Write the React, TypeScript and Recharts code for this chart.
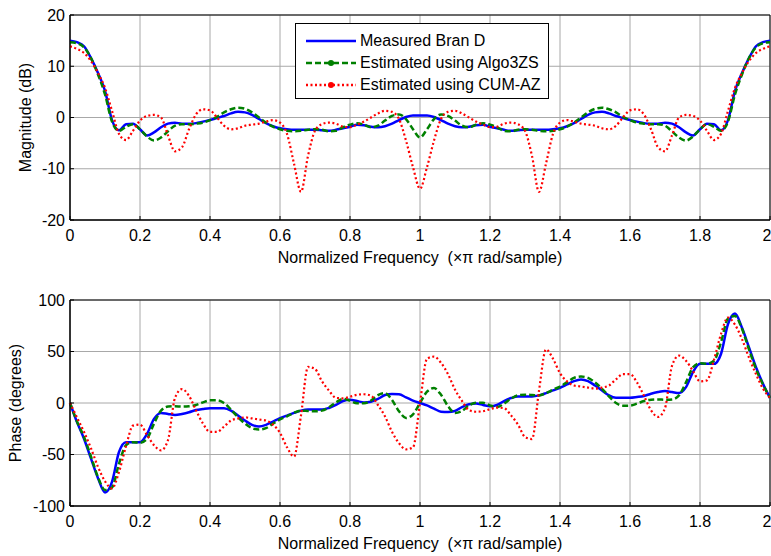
import {
  LineChart,
  Line,
  XAxis,
  YAxis,
  CartesianGrid,
  ReferenceArea,
  Legend,
} from "recharts";

// normalized frequency (x pi rad/sample)
const freq = [
  0, 0.02, 0.04, 0.06, 0.08, 0.1, 0.12, 0.14, 0.16, 0.18,
  0.2, 0.22, 0.24, 0.26, 0.28, 0.3, 0.32, 0.34, 0.36, 0.38,
  0.4, 0.42, 0.44, 0.46, 0.48, 0.5, 0.52, 0.54, 0.56, 0.58,
  0.6, 0.62, 0.64, 0.66, 0.68, 0.7, 0.72, 0.74, 0.76, 0.78,
  0.8, 0.82, 0.84, 0.86, 0.88, 0.9, 0.92, 0.94, 0.96, 0.98,
  1, 1.02, 1.04, 1.06, 1.08, 1.1, 1.12, 1.14, 1.16, 1.18,
  1.2, 1.22, 1.24, 1.26, 1.28, 1.3, 1.32, 1.34, 1.36, 1.38,
  1.4, 1.42, 1.44, 1.46, 1.48, 1.5, 1.52, 1.54, 1.56, 1.58,
  1.6, 1.62, 1.64, 1.66, 1.68, 1.7, 1.72, 1.74, 1.76, 1.78,
  1.8, 1.82, 1.84, 1.86, 1.88, 1.9, 1.92, 1.94, 1.96, 1.98,
  2,
];

// magnitude (dB)
const magMeasured = [
  15.0, 14.7, 13.9, 11.6, 8.7, 5.2, -0.5, -2.5, -1.3, -1.2,
  -2.3, -3.5, -2.9, -1.9, -1.2, -1.0, -1.2, -1.2, -1.1, -0.8,
  -0.5, -0.1, 0.3, 0.8, 1.1, 1.0, 0.5, -0.3, -1.1, -1.7,
  -2.1, -2.3, -2.4, -2.4, -2.4, -2.4, -2.5, -2.6, -2.4, -2.1,
  -1.8, -1.4, -1.5, -1.8, -1.9, -1.7, -1.2, -0.5, 0.1, 0.4,
  0.4,
  0.4, 0.1, -0.5, -1.2, -1.7, -1.9, -1.8, -1.5, -1.4, -1.8,
  -2.1, -2.4, -2.6, -2.5, -2.4, -2.4, -2.4, -2.4, -2.3, -2.1,
  -1.7, -1.1, -0.3, 0.5, 1.0, 1.1, 0.8, 0.3, -0.1, -0.5,
  -0.8, -1.1, -1.2, -1.2, -1.0, -1.2, -1.9, -2.9, -3.5, -2.3,
  -1.2, -1.3, -2.5, -0.5, 5.2, 8.7, 11.6, 13.9, 14.7, 15.0,
];
const magAlgo3ZS = [
  14.7, 14.5, 13.7, 11.6, 8.4, 4.5, -0.8, -2.6, -1.8, -1.3,
  -2.3, -3.7, -4.5, -3.9, -2.7, -1.6, -1.3, -1.3, -1.2, -1.0,
  -0.5, 0.1, 1.0, 1.6, 1.9, 1.7, 1.0, 0.0, -1.0, -1.8,
  -2.3, -2.6, -2.7, -2.6, -2.4, -2.3, -2.4, -2.7, -2.6, -1.9,
  -1.4, -1.1, -1.4, -1.9, -1.6, -0.6, 0.3, 0.6, -0.3, -2.3,
  -3.9,
  -2.3, -0.3, 0.6, 0.3, -0.6, -1.6, -1.9, -1.4, -1.1, -1.4,
  -1.9, -2.6, -2.7, -2.4, -2.3, -2.4, -2.6, -2.7, -2.6, -2.3,
  -1.8, -1.0, 0.0, 1.0, 1.7, 1.9, 1.6, 1.0, 0.1, -0.5,
  -1.0, -1.2, -1.3, -1.3, -1.6, -2.7, -3.9, -4.5, -3.7, -2.3,
  -1.3, -1.8, -2.6, -0.8, 4.5, 8.4, 11.6, 13.7, 14.5, 14.7,
];
const magCumAz = [
  13.9, 13.4, 12.6, 11.0, 8.7, 5.8, 1.3, -3.2, -4.4, -2.6,
  -0.6, 0.3, 0.5, 0.0, -3.5, -6.6, -5.8, -2.3, 0.6, 1.6,
  1.4, 0.0, -1.6, -2.3, -2.1, -1.6, -1.4, -1.2, -0.8, -0.5,
  -1.0, -3.2, -9.0, -14.5, -7.5, -2.6, -1.3, -1.0, -1.2, -1.8,
  -1.9, -1.4, -0.8, 0.0, 0.8, 1.3, 1.1, -0.3, -4.5, -9.7,
  -13.9,
  -9.7, -4.5, -0.3, 1.1, 1.3, 0.8, 0.0, -0.8, -1.4, -1.9,
  -1.8, -1.2, -1.0, -1.3, -2.6, -7.5, -14.5, -9.0, -3.2, -1.0,
  -0.5, -0.8, -1.2, -1.4, -1.6, -2.1, -2.3, -1.6, 0.0, 1.4,
  1.6, 0.6, -2.3, -5.8, -6.6, -3.5, 0.0, 0.5, 0.3, -0.6,
  -2.6, -4.4, -3.2, 1.3, 5.8, 8.7, 11.0, 12.6, 13.4, 13.9,
];

// phase (degrees)
const phMeasured = [
  0, -18.6, -34.7, -54, -73, -86.8, -76.5, -47.6, -38, -38,
  -38, -30, -15.4, -9.6, -10.6, -11.6, -10.6, -9, -6.8, -5.8,
  -5.1, -5.1, -5.1, -7.4, -12.2, -17, -21.2, -22.8, -21.2, -18,
  -14.8, -12.2, -9.6, -7.4, -6.4, -6.4, -6.4, -4.8, -1.9, 1.9,
  3.2, 1.9, 0.6, 1.3, 3.9, 7.7, 8.7, 8.4, 5.5, 2.3,
  0,
  -2.3, -5.5, -8.4, -8.7, -7.7, -3.9, -1.3, -0.6, -1.9, -3.2,
  -1.9, 1.9, 4.8, 6.4, 6.4, 6.4, 7.4, 9.6, 12.2, 14.8,
  18, 21.2, 22.8, 21.2, 17, 12.2, 7.4, 5.1, 5.1, 5.1,
  5.8, 6.8, 9, 10.6, 11.6, 10.6, 9.6, 15.4, 30, 38,
  38, 38, 47.6, 76.5, 86.8, 73, 54, 34.7, 18.6, 5,
];
const phAlgo3ZS = [
  0, -18, -33, -52, -72, -84.5, -82, -59, -41, -38,
  -38.6, -34.7, -20, -7.4, -3.5, -3.2, -3.5, -3.2, -1.9, 0.6,
  2.6, 2.6, 0, -6.4, -13.8, -20, -24.4, -25.7, -24.4, -20,
  -16, -12.9, -9.6, -7.4, -7.8, -8, -7.4, -4.2, 0.6, 3.9,
  2.3, -0.3, -0.3, 2.3, 7.7, 9.6, 3, -8, -14.5, -11,
  0,
  11, 14.5, 8, -3, -9.6, -7.7, -2.3, 0.3, 0.3, -2.3,
  -3.9, -0.6, 4.2, 7.4, 8, 7.8, 7.4, 9.6, 12.9, 16,
  20, 24.4, 25.7, 24.4, 20, 13.8, 6.4, 0, -2.6, -2.6,
  -0.6, 1.9, 3.2, 3.5, 3.2, 3.5, 7.4, 20, 34.7, 38.6,
  38, 41, 59, 82, 84.5, 72, 52, 33, 18, 5,
];
const phCumAz = [
  0, -14, -28, -44, -62, -76, -83, -67, -42, -22,
  -21, -31, -41, -46, -36, 5, 13.5, 7, -7, -20,
  -28, -28, -23, -17, -15, -14, -15, -16, -17, -21,
  -29, -43, -52, -12, 35, 33, 21, 12, 5, 4.5,
  6, 8, 8.5, 7, -2, -13, -28, -39, -45, -43,
  0,
  43, 45, 39, 28, 13, 2, -7, -8.5, -8, -6,
  -4.5, -5, -12, -21, -33, -35, 12, 52, 43, 29,
  21, 17, 16, 15, 14, 15, 17, 23, 28, 28,
  20, 7, -7, -13.5, -5, 36, 46, 41, 31, 21,
  22, 42, 67, 83, 76, 62, 44, 28, 14, 5,
];

const freqTicks = [0, 0.2, 0.4, 0.6, 0.8, 1, 1.2, 1.4, 1.6, 1.8, 2];
const magTicks = [-20, -10, 0, 10, 20];
const phaseTicks = [-100, -50, 0, 50, 100];

const seriesNames = [
  "Measured Bran D",
  "Estimated using Algo3ZS",
  "Estimated using CUM-AZ",
];

const xLabel = "Normalized Frequency \u00a0(\u00d7\u03c0 rad/sample)";

const magData = freq.map((f, i) => ({
  f,
  measured: magMeasured[i],
  algo: magAlgo3ZS[i],
  cum: magCumAz[i],
}));

const phaseData = freq.map((f, i) => ({
  f,
  measured: phMeasured[i],
  algo: phAlgo3ZS[i],
  cum: phCumAz[i],
}));

const tickStyle = { fontSize: 16, fill: "#000" };
const labelStyle = { fontSize: 16, fill: "#000", textAnchor: "middle" as const };
const fmt = (v: number) => String(Number(v.toFixed(1)));

function MatlabLegend() {
  const rows = [
    { color: "#0000ff", dash: undefined, dot: false },
    { color: "#008000", dash: "6 3", dot: true },
    { color: "#ff0000", dash: "2 2.5", dot: true },
  ];
  return (
    <div
      style={{
        width: 252,
        height: 74,
        border: "1px solid #000",
        background: "#fff",
        boxSizing: "content-box",
        position: "relative",
      }}
    >
      {rows.map((r, i) => (
        <div
          key={i}
          style={{
            position: "absolute",
            left: 0,
            top: 6 + i * 22,
            height: 22,
            display: "flex",
            alignItems: "center",
            fontSize: 16,
            color: "#000",
            whiteSpace: "nowrap",
          }}
        >
          <svg width={64} height={12} style={{ display: "block" }}>
            <line
              x1={10}
              y1={6}
              x2={60}
              y2={6}
              stroke={r.color}
              strokeWidth={2.5}
              strokeDasharray={r.dash}
            />
            {r.dot && <circle cx={35} cy={6} r={3} fill={r.color} />}
          </svg>
          <span>{seriesNames[i]}</span>
        </div>
      ))}
    </div>
  );
}

// box with inward ticks on all four sides, like a matlab axes
function Frame({ yTicks, yDomain }: { yTicks: number[]; yDomain: [number, number] }) {
  return [
    <XAxis
      key="xt"
      xAxisId="top"
      orientation="top"
      dataKey="f"
      type="number"
      domain={[0, 2]}
      ticks={freqTicks}
      height={0}
      tick={false}
      tickSize={-4}
      stroke="#000"
    />,
    <YAxis
      key="yr"
      yAxisId="right"
      orientation="right"
      type="number"
      domain={yDomain}
      ticks={yTicks}
      width={0}
      tick={false}
      tickSize={-4}
      stroke="#000"
    />,
  ];
}

function Series() {
  return [
    <Line
      key="m"
      dataKey="measured"
      type="monotone"
      stroke="#0000ff"
      strokeWidth={2.5}
      dot={false}
      isAnimationActive={false}
    />,
    <Line
      key="a"
      dataKey="algo"
      type="monotone"
      stroke="#008000"
      strokeWidth={2.5}
      strokeDasharray="6 3"
      dot={false}
      isAnimationActive={false}
    />,
    <Line
      key="c"
      dataKey="cum"
      type="monotone"
      stroke="#ff0000"
      strokeWidth={2.2}
      strokeDasharray="2 2.5"
      dot={false}
      isAnimationActive={false}
    />,
  ];
}

export default function App() {
  return (
    <div
      style={{
        position: "absolute",
        left: 0,
        top: 0,
        width: 771,
        height: 556,
        background: "#fff",
        fontFamily: "'Liberation Sans', Arial, sans-serif",
      }}
    >
      {/* magnitude */}
      <LineChart
        width={771}
        height={278}
        data={magData}
        margin={{ top: 15, right: 1, bottom: 0, left: 0 }}
      >
        <CartesianGrid stroke="#a8a8a8" />
        <XAxis
          dataKey="f"
          type="number"
          domain={[0, 2]}
          ticks={freqTicks}
          tickFormatter={fmt}
          height={58}
          tick={tickStyle}
          tickSize={-4}
          tickMargin={14}
          stroke="#000"
          label={{
            value: xLabel,
            position: "insideBottom",
            offset: 15,
            style: labelStyle,
          }}
        />
        <YAxis
          type="number"
          domain={[-20, 20]}
          ticks={magTicks}
          width={70}
          tick={tickStyle}
          tickSize={-4}
          tickMargin={9}
          stroke="#000"
          label={{
            value: "Magnitude (dB)",
            angle: -90,
            position: "insideLeft",
            offset: 25,
            style: labelStyle,
          }}
        />
        {Frame({ yTicks: magTicks, yDomain: [-20, 20] })}
        <ReferenceArea x1={0} x2={2} y1={-20} y2={20} fill="none" stroke="#000" />
        <Legend
          verticalAlign="middle"
          align="center"
          content={() => <MatlabLegend />}
          wrapperStyle={{ left: 295, top: 23, width: 254 }}
        />
        {Series()}
      </LineChart>

      {/* phase */}
      <LineChart
        width={771}
        height={278}
        data={phaseData}
        margin={{ top: 22, right: 1, bottom: 0, left: 0 }}
      >
        <CartesianGrid stroke="#a8a8a8" />
        <XAxis
          dataKey="f"
          type="number"
          domain={[0, 2]}
          ticks={freqTicks}
          tickFormatter={fmt}
          height={50}
          tick={tickStyle}
          tickSize={-4}
          tickMargin={14}
          stroke="#000"
          label={{
            value: xLabel,
            position: "insideBottom",
            offset: 7,
            style: labelStyle,
          }}
        />
        <YAxis
          type="number"
          domain={[-100, 100]}
          ticks={phaseTicks}
          width={70}
          tick={tickStyle}
          tickSize={-4}
          tickMargin={9}
          stroke="#000"
          label={{
            value: "Phase (degrees)",
            angle: -90,
            position: "insideLeft",
            offset: 15,
            style: labelStyle,
          }}
        />
        {Frame({ yTicks: phaseTicks, yDomain: [-100, 100] })}
        <ReferenceArea x1={0} x2={2} y1={-100} y2={100} fill="none" stroke="#000" />
        {Series()}
      </LineChart>
    </div>
  );
}
